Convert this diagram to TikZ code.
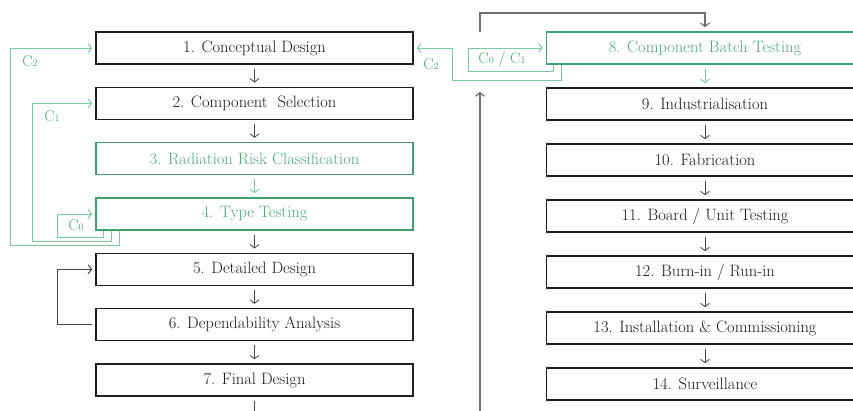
\documentclass[tikz,border=0pt]{standalone}
\usetikzlibrary{arrows.meta}
\definecolor{boxline}{RGB}{30,30,30}
\definecolor{conn}{RGB}{70,70,70}
\definecolor{loopgray}{RGB}{110,110,110}
\definecolor{gborder}{RGB}{60,160,112}
\definecolor{gtext}{RGB}{78,168,122}
\definecolor{glight}{RGB}{128,200,162}
\newcommand{\csub}[1]{C{\fontsize{10}{10}\selectfont #1}}
\begin{document}
\begin{tikzpicture}[x=1pt,y=-1pt,
  every node/.style={font=\fontsize{16.5}{18}\selectfont},
  stepbox/.style={draw=boxline,line width=1.6pt,minimum width=317pt,minimum height=32pt,inner sep=0pt,text=black!90},
  gbox/.style={draw=gborder,line width=1.6pt,minimum width=317pt,minimum height=32pt,inner sep=0pt,text=gtext},
  tip/.style={-{Straight Barb[length=3.5pt,width=9pt]}},
  flow/.style={tip,draw=conn,line width=0.8pt,shorten <=4pt,shorten >=4pt},
  gflow/.style={tip,draw=glight,line width=0.9pt,shorten <=4pt,shorten >=4pt},
  gline/.style={tip,draw=glight,line width=1pt},
  bline/.style={draw=conn,line width=1pt},
  grayline/.style={draw=loopgray,line width=1.2pt},
  lab/.style={text=gtext,font=\fontsize{15.5}{17}\selectfont,inner sep=0pt}
]
\useasboundingbox (0,0) rectangle (853,410);
\begin{scope}
\clip (0,0) rectangle (853,410);
% left column
\node[stepbox] (b1) at (254.5,48) {1. Conceptual Design};
\node[stepbox] (b2) at (254.5,103.3) {2. Component\ \ Selection};
\node[gbox] (b3) at (254.5,158.6) {3. Radiation Risk Classification};
\node[gbox] (b4) at (254.5,214) {4. Type Testing};
\node[stepbox] (b5) at (254.5,269.3) {5. Detailed Design};
\node[stepbox] (b6) at (254.5,324.6) {6. Dependability Analysis};
\node[stepbox] (b7) at (254.5,380) {7. Final Design};
% right column
\node[gbox] (b8) at (705,48) {8. Component Batch Testing};
\node[stepbox] (b9) at (705,104) {9. Industrialisation};
\node[stepbox] (b10) at (705,160) {10. Fabrication};
\node[stepbox] (b11) at (705,216) {11. Board / Unit Testing};
\node[stepbox] (b12) at (705,272) {12. Burn-in / Run-in};
\node[stepbox] (b13) at (705,328) {13. Installation \& Commissioning};
\node[stepbox] (b14) at (705,384) {14. Surveillance};

% vertical flow arrows
\draw[flow] (b1) -- (b2);
\draw[flow] (b2) -- (b3);
\draw[gflow] (b3) -- (b4);
\draw[flow] (b4) -- (b5);
\draw[flow] (b5) -- (b6);
\draw[flow] (b6) -- (b7);
\draw[gflow] (b8) -- (b9);
\draw[flow] (b9) -- (b10);
\draw[flow] (b10) -- (b11);
\draw[flow] (b11) -- (b12);
\draw[flow] (b12) -- (b13);
\draw[flow] (b13) -- (b14);

% out of box 7 to bottom edge
\coordinate (e7) at (254.5,412);
\draw[bline,shorten <=4pt] (b7.south) -- (e7);

% loop 6 -> 5
\draw[bline,tip,shorten <=3pt,shorten >=3pt] (b6.west) -- (57,324.6) |- (b5.west);

% gray loop to box 8
\coordinate (g0) at (480,412);
\coordinate (g1) at (480,92);
\coordinate (g2) at (480,32);
\coordinate (g3) at (480,13);
\draw[grayline,tip] (g0) -- (g1);
\draw[grayline,tip,shorten >=4pt] (g2) -- (g3) -| (b8.north);

% left green feedback
\draw[gline,shorten >=3pt] ([xshift=8pt]b4.south west) |- (57,237) |- (b4.west);
\draw[gline,shorten >=3pt] ([xshift=16pt]b4.south west) |- (32,241) |- (b2.west);
\draw[gline,shorten >=3pt] ([xshift=24pt]b4.south west) |- (10,245) |- (b1.west);

% right green feedback
\draw[gline,shorten >=3pt] ([xshift=8pt]b8.south west) |- (468,71) |- (b8.west);
\draw[gline,shorten >=3pt] ([xshift=16pt]b8.south west) |- (452,80) |- (b1.east);

% labels
\node[lab] (l2) at (30,61) {\csub{2}};
\node[lab] (l1) at (52,116) {\csub{1}};
\node[lab] (l0) at (76,225) {\csub{0}};
\node[lab] (l2r) at (431,64) {\csub{2}};
\node[lab] (l01) at (502,60) {\csub{0} / \csub{1}};
\end{scope}
\end{tikzpicture}
\end{document}
